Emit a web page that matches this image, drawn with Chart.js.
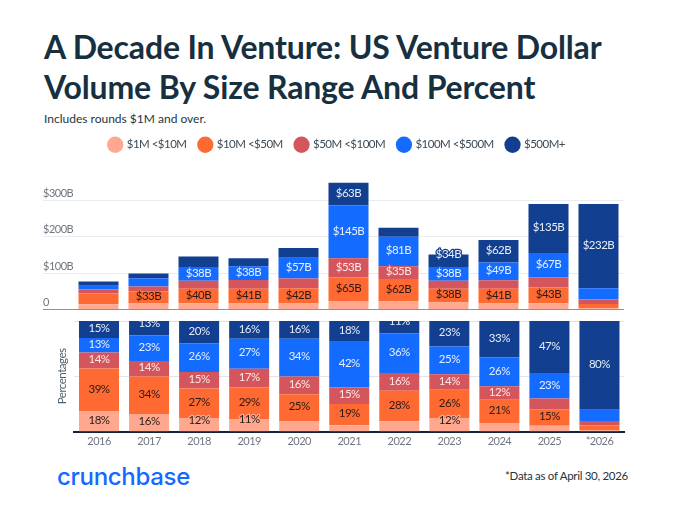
<!DOCTYPE html>
<html>
<head>
<meta charset="utf-8">
<script src="https://cdn.jsdelivr.net/npm/chart.js@4"></script>
<style>
body { margin: 0; background: #fff; width: 680px; height: 511px; overflow: hidden; position: relative; font-family: Lato, sans-serif; }
h1 { position: absolute; left: 44px; top: 27px; margin: 0; font: 700 32px/40px Lato, sans-serif; letter-spacing: -0.15px; color: #17303f; white-space: nowrap; }
#sub { position: absolute; left: 44px; top: 111px; font-size: 12px; color: #26343d; }
#logo { position: absolute; left: 57px; top: 462px; font: 500 24px Inter, sans-serif; color: #146aff; letter-spacing: -0.3px; }
#note { position: absolute; left: 505px; top: 469px; font-size: 11.5px; letter-spacing: -0.3px; color: #26343d; }
canvas { position: absolute; left: 0; }
#top { top: 126px; }
#pct { top: 310px; }
</style>
</head>
<body>
<h1>A Decade In Venture: US Venture Dollar<br>Volume By Size Range And Percent</h1>
<div id="sub">Includes rounds $1M and over.</div>
<canvas id="top" width="680" height="193"></canvas>
<canvas id="pct" width="680" height="141"></canvas>
<div id="logo">crunchbase</div>
<div id="note">*Data as of April 30, 2026</div>
<script>
const years = ["2016", "2017", "2018", "2019", "2020", "2021", "2022", "2023", "2024", "2025", "*2026"];
const ranges = ["$1M <$10M", "$10M <$50M", "$50M <$100M", "$100M <$500M", "$500M+"];
const colors = ["#ffa88f", "#ff6a33", "#d4555c", "#146bff", "#123f8f"];
const labelColors = ["#2a1a16", "#2a1a16", "#fde8e6", "#e6f0ff", "#e6edf8"];

// dollars, billions
const usd1to10 = [14, 16, 17, 16, 16, 23, 22, 19, 16, 17, 3];
const usd10to50 = [30, 33, 40, 41, 42, 65, 62, 38, 41, 43, 12];
const usd50to100 = [11, 14, 22, 24, 27, 53, 35, 22, 23, 28, 12];
const usd100to500 = [10, 23, 38, 38, 57, 145, 81, 38, 49, 67, 31];
const usd500up = [12, 13, 29, 22, 27, 63, 25, 34, 62, 135, 232];

// share of the year
const pct1to10 = [18.3, 16, 12, 11, 9.4, 6, 9.5, 12, 8, 5.4, 1.2];
const pct10to50 = [38.9, 34, 27, 29, 24.6, 19, 27.5, 26, 21, 15, 4.4];
const pct50to100 = [14.3, 14, 15, 17, 16, 15, 16, 14, 12, 9.6, 4.2];
const pct100to500 = [13.2, 23, 26, 27, 34, 42, 36, 25, 26, 23, 10.2];
const pct500up = [15.3, 13, 20, 16, 16, 18, 11, 23, 33, 47, 80];

const yTicksTop = [0, 100, 200, 300];

// labels the original moves up from the middle of the segment ("series:year": px)
const nudgeTop = {"4:7": -5};
const nudgePct = {"4:1": -4, "4:6": -5, "0:2": -4, "0:3": -5, "0:7": -4};

function makeSets(rows) {
    return rows.map((data, i) => ({
        label: ranges[i],
        data: data,
        backgroundColor: colors[i],
        borderWidth: 0,
        categoryPercentage: 0.8,
        barPercentage: 1
    }));
}

// the original's font is narrower than anything installed
const tightText = {
    id: "tightText",
    beforeUpdate(chart) { chart.ctx.letterSpacing = "-0.5px"; },
    beforeDraw(chart) { chart.ctx.letterSpacing = "-0.5px"; }
};

// legend sits a little right of the plot's centre
const legendShift = {
    id: "legendShift",
    afterLayout(chart) {
        chart.legend.left += 4;
        chart.legend.right += 4;
    }
};

// Chart.js has no value labels of its own
function segmentLabels(minValue, format, nudge, clip) {
    return {
        id: "segmentLabels",
        afterDatasetsDraw(chart) {
            const ctx = chart.ctx;
            const area = chart.chartArea;
            ctx.save();
            if (clip) {
                ctx.beginPath();
                ctx.rect(area.left, area.top, area.right - area.left, area.bottom - area.top);
                ctx.clip();
            }
            ctx.font = "11.5px Lato";
            ctx.textAlign = "center";
            ctx.textBaseline = "middle";
            ctx.lineWidth = 2.5;
            ctx.lineJoin = "round";
            chart.data.datasets.forEach((set, s) => {
                chart.getDatasetMeta(s).data.forEach((bar, i) => {
                    if (set.data[i] < minValue) return;
                    const mid = (bar.y + bar.base) / 2;
                    const text = format(set.data[i]);
                    const y = mid - 1 + (nudge[s + ":" + i] || 0);
                    // halo keeps a label readable where it pokes out of its bar
                    ctx.strokeStyle = colors[s];
                    ctx.strokeText(text, bar.x, y);
                    ctx.fillStyle = labelColors[s];
                    ctx.fillText(text, bar.x, y);
                });
            });
            ctx.restore();
        }
    };
}

new Chart("top", {
    type: "bar",
    data: {
        labels: years,
        datasets: makeSets([usd1to10, usd10to50, usd50to100, usd100to500, usd500up])
    },
    options: {
        responsive: false,
        animation: false,
        layout: {padding: {left: 43, right: 56.5, bottom: 1}},
        plugins: {
            tooltip: {enabled: false},
            legend: {
                display: true,
                position: "top",
                labels: {
                    usePointStyle: true,
                    pointStyle: "circle",
                    boxWidth: 12,
                    boxHeight: 12,
                    padding: 13,
                    color: "#3c4a55",
                    font: {family: "Lato", size: 11.5}
                }
            }
        },
        scales: {
            x: {
                stacked: true,
                grid: {display: false, drawTicks: false},
                border: {color: "#8794a0", width: 1},
                ticks: {display: false}
            },
            y: {
                stacked: true,
                min: 0,
                max: 410,
                afterFit(scale) { scale.width = 30.5; },
                afterBuildTicks(scale) { scale.ticks = yTicksTop.map(v => ({value: v})); },
                border: {display: false},
                grid: {
                    color: c => c.tick.value === 0 ? "#8794a0" : "#e8ecf0",
                    tickColor: c => c.tick.value === 0 ? "#8794a0" : "#e8ecf0",
                    tickLength: 30.5
                },
                ticks: {
                    crossAlign: "far",
                    labelOffset: -7,
                    color: "#6f7780",
                    font: {family: "Lato", size: 11},
                    callback: v => v === 0 ? "0" : "$" + v + "B"
                }
            }
        }
    },
    plugins: [tightText, legendShift, segmentLabels(33, v => "$" + v + "B", nudgeTop, false)]
});

new Chart("pct", {
    type: "bar",
    data: {
        labels: years,
        datasets: makeSets([pct1to10, pct10to50, pct50to100, pct100to500, pct500up])
    },
    options: {
        responsive: false,
        animation: false,
        layout: {padding: {left: 55, right: 55.5, top: 11}},
        plugins: {legend: {display: false}, tooltip: {enabled: false}},
        scales: {
            x: {
                stacked: true,
                grid: {display: false, drawTicks: false},
                border: {color: "#15233a", width: 2},
                ticks: {color: "#6f7780", font: {family: "Lato", size: 11}, padding: 3, maxRotation: 0}
            },
            y: {
                stacked: true,
                min: 0,
                max: 100,
                afterFit(scale) { scale.width = 19; },
                border: {display: false},
                grid: {color: "#e1e5ea", drawTicks: false},
                title: {
                    display: true,
                    text: "Percentages",
                    color: "#50606c",
                    font: {family: "Lato", size: 11.5},
                    padding: 0
                },
                ticks: {display: false, stepSize: 50}
            }
        }
    },
    plugins: [tightText, segmentLabels(10.5, v => Math.round(v) + "%", nudgePct, true)]
});
</script>
</body>
</html>
